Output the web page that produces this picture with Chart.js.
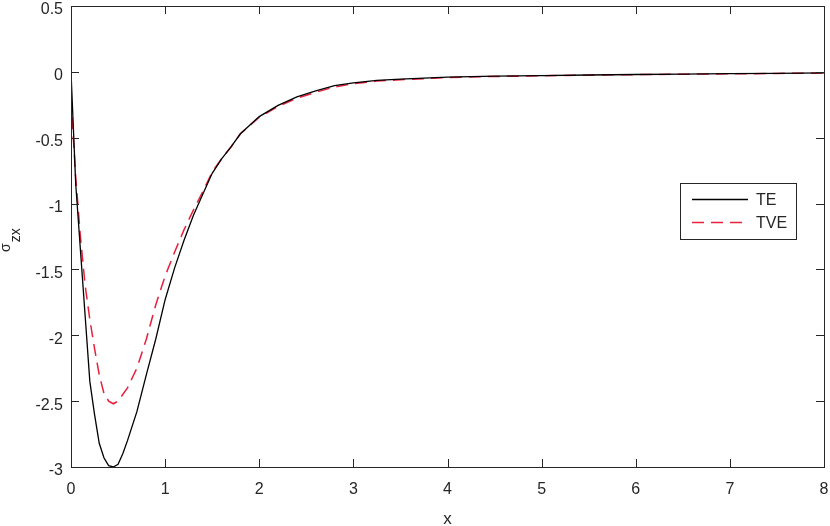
<!DOCTYPE html>
<html>
<head>
<meta charset="utf-8">
<script src="https://cdn.jsdelivr.net/npm/chart.js@4/dist/chart.umd.min.js"></script>
<style>
  html, body { margin: 0; padding: 0; background: #fff; }
  #c { display: block; }
</style>
</head>
<body>
<canvas id="c" width="830" height="526"></canvas>
<script>
// ---- data ----
const xValues = [0, 0.05, 0.1, 0.15, 0.2, 0.25, 0.3, 0.35, 0.4, 0.45, 0.5, 0.55, 0.6, 0.7, 0.8, 0.9,
  1.0, 1.1, 1.2, 1.3, 1.4, 1.5, 1.6, 1.7, 1.8, 2.0, 2.2, 2.4, 2.6, 2.8, 3.0, 3.25, 3.5,
  4.0, 4.5, 5.0, 5.5, 6.0, 6.5, 7.0, 7.5, 8.0];
const teValues = [0, -0.85, -1.35, -1.85, -2.35, -2.6, -2.82, -2.93, -2.99, -3.0, -2.98, -2.9, -2.8, -2.58, -2.3, -2.03,
  -1.73, -1.49, -1.28, -1.09, -0.93, -0.77, -0.66, -0.57, -0.47, -0.34, -0.255, -0.19, -0.145, -0.105, -0.083, -0.065, -0.055,
  -0.04, -0.033, -0.028, -0.024, -0.02, -0.017, -0.014, -0.011, -0.008];
const tveValues = [-0.2, -0.8, -1.25, -1.62, -1.88, -2.1, -2.3, -2.44, -2.5, -2.52, -2.5, -2.45, -2.4, -2.25, -2.03, -1.77,
  -1.55, -1.37, -1.2, -1.05, -0.91, -0.76, -0.66, -0.57, -0.47, -0.345, -0.262, -0.2, -0.155, -0.115, -0.09, -0.07, -0.06,
  -0.043, -0.035, -0.03, -0.025, -0.021, -0.018, -0.015, -0.012, -0.009];
const seriesNames = ['TE', 'TVE'];
const xTicks = [0, 1, 2, 3, 4, 5, 6, 7, 8];
const yTicks = [0.5, 0, -0.5, -1, -1.5, -2, -2.5, -3];

const AX = '#262626';
const FONT = '"Liberation Sans", Arial, sans-serif';

const toPts = (vals) => vals.map((v, i) => ({ x: xValues[i], y: v }));

const frame = {
  id: 'frame',
  afterDatasetsDraw(chart) {
    const { ctx, chartArea: a, scales } = chart;
    ctx.save();
    ctx.strokeStyle = AX;
    ctx.lineWidth = 1;
    const T = 8;
    ctx.beginPath();
    xTicks.forEach(v => {
      const px = Math.round(scales.x.getPixelForValue(v)) + 0.5;
      ctx.moveTo(px, a.bottom); ctx.lineTo(px, a.bottom - T);
      ctx.moveTo(px, a.top); ctx.lineTo(px, a.top + T);
    });
    yTicks.forEach(v => {
      const py = Math.round(scales.y.getPixelForValue(v)) + 0.5;
      ctx.moveTo(a.left, py); ctx.lineTo(a.left + T, py);
      ctx.moveTo(a.right, py); ctx.lineTo(a.right - T, py);
    });
    ctx.stroke();
    ctx.strokeRect(Math.round(a.left) + 0.5, Math.round(a.top) + 0.5,
      Math.round(a.right - a.left), Math.round(a.bottom - a.top));

    // legend box
    const lx = 680.5, ly = 183.5, lw = 116, lh = 56;
    ctx.fillStyle = '#fff';
    ctx.fillRect(lx, ly, lw, lh);
    ctx.strokeStyle = AX;
    ctx.lineWidth = 1;
    ctx.strokeRect(lx, ly, lw, lh);
    const rows = [199.5, 222.5];
    chart.data.datasets.forEach((ds, i) => {
      ctx.save();
      ctx.strokeStyle = ds.borderColor;
      ctx.lineWidth = ds.borderWidth;
      ctx.setLineDash(ds.borderDash || []);
      ctx.beginPath();
      ctx.moveTo(692, rows[i]); ctx.lineTo(748, rows[i]);
      ctx.stroke();
      ctx.restore();
      ctx.fillStyle = AX;
      ctx.font = '16px ' + FONT;
      ctx.textBaseline = 'middle';
      ctx.textAlign = 'left';
      ctx.fillText(ds.label, 756, rows[i] + 1);
    });

    // x-axis title
    ctx.fillStyle = AX;
    ctx.font = '17px ' + FONT;
    ctx.textAlign = 'center';
    ctx.textBaseline = 'middle';
    ctx.fillText('x', (a.left + a.right) / 2, 519);

    // y-axis title: sigma with subscript zx
    ctx.save();
    ctx.translate(10, 252);
    ctx.rotate(-Math.PI / 2);
    ctx.fillStyle = AX;
    ctx.textBaseline = 'alphabetic';
    ctx.textAlign = 'left';
    ctx.font = '14px ' + FONT;
    ctx.fillText('σ', 0, 0);
    const w = ctx.measureText('σ').width;
    ctx.font = '14px ' + FONT;
    ctx.fillText('zx', w + 1, 10);
    ctx.restore();
    ctx.restore();
  }
};

new Chart(document.getElementById('c'), {
  type: 'line',
  data: {
    datasets: [
      { label: seriesNames[0], data: toPts(teValues), borderColor: '#000000', borderWidth: 1.3,
        pointRadius: 0, tension: 0, fill: false },
      { label: seriesNames[1], data: toPts(tveValues), borderColor: '#e8203c', borderWidth: 1.5,
        borderDash: [12, 7], pointRadius: 0, tension: 0, fill: false }
    ]
  },
  options: {
    responsive: false,
    animation: false,
    devicePixelRatio: 1,
    layout: { padding: { top: 6, right: 6, left: 0, bottom: 0 } },
    plugins: { legend: { display: false }, tooltip: { enabled: false } },
    scales: {
      x: {
        type: 'linear', min: 0, max: 8,
        afterFit(s) { s.height = 59; s.paddingLeft = 0; s.paddingRight = 0; },
        afterBuildTicks(s) { s.ticks = xTicks.map(v => ({ value: v })); },
        grid: { display: false, drawTicks: false },
        border: { display: false },
        ticks: { color: AX, font: { family: FONT, size: 16 }, padding: 13, maxRotation: 0,
          callback: v => String(v) }
      },
      y: {
        type: 'linear', min: -3, max: 0.5,
        afterFit(s) { s.width = 71; s.paddingTop = 0; s.paddingBottom = 0; },
        afterBuildTicks(s) { s.ticks = yTicks.map(v => ({ value: v })); },
        grid: { display: false, drawTicks: false },
        border: { display: false },
        ticks: { color: AX, font: { family: FONT, size: 16 }, padding: 8, labelOffset: 4,
          callback: v => String(v) }
      }
    }
  },
  plugins: [frame]
});
</script>
</body>
</html>
